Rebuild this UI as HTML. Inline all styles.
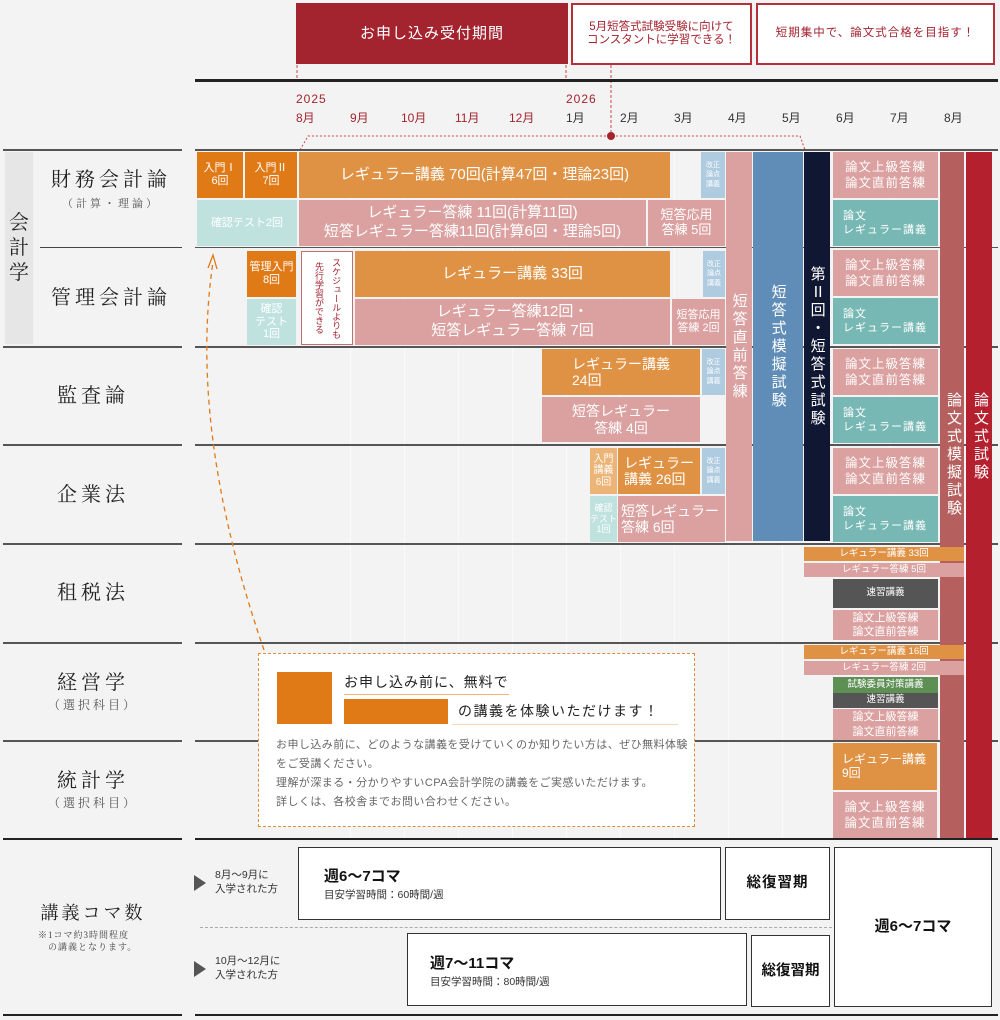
<!DOCTYPE html>
<html><head><meta charset="utf-8"><style>
*{margin:0;padding:0;box-sizing:border-box}
body{width:1000px;height:1020px;background:#f3f3f3;position:relative;overflow:hidden;font-family:"Liberation Sans","Noto Sans CJK JP",sans-serif;}
.a{position:absolute}
.b{position:absolute;display:flex;align-items:center;justify-content:center;color:#fff;text-align:center;line-height:1.15;}
.or{background:#e07a16}.lo{background:#e09244}.pk{background:#dba0a0}.tl{background:#bfe2df}.bl{background:#afcbe0}.tg{background:#78b8b4}
.hl{position:absolute;height:2px;background:#555}
.vl{position:absolute;top:150px;height:690px;width:1px;background:#fafafa}
.sr{font-family:"Liberation Serif","Noto Serif CJK SC",serif;color:#222}
.m{position:absolute;top:109px;font-size:12px}
.kz{font-size:7px;line-height:1.3}
.rn{font-size:12.5px;letter-spacing:1px;line-height:1.3}
.rl{font-size:11px;line-height:1.3;text-align:left;justify-content:flex-start;padding-left:10px;letter-spacing:1px}
.vt{position:absolute;writing-mode:vertical-rl;color:#fff;font-size:15px;letter-spacing:3px}
</style></head><body>
<!-- top -->
<div class="b" style="left:296px;top:3px;width:272px;height:61px;background:#a3232e;font-size:15px;letter-spacing:1px">お申し込み受付期間</div>
<div class="b" style="left:571px;top:3px;width:181px;height:62px;background:#fff;border:2px solid #b5303a;color:#a3232e;font-size:11.5px">5月短答式試験受験に向けて<br>コンスタントに学習できる！</div>
<div class="b" style="left:756px;top:3px;width:239px;height:62px;background:#fff;border:2px solid #b5303a;color:#a3232e;font-size:11.5px;letter-spacing:1px">短期集中で、論文式合格を目指す！</div>
<svg class="a" style="left:0;top:0" width="1000" height="160">
<line x1="297" y1="65" x2="297" y2="80" stroke="#c44" stroke-dasharray="3,2"/>
<line x1="566" y1="65" x2="566" y2="80" stroke="#c44" stroke-dasharray="3,2"/>
<line x1="611" y1="65" x2="611" y2="136" stroke="#c44" stroke-dasharray="3,2"/>
<polyline points="300,150 308,136 800,136 805,150" fill="none" stroke="#c44" stroke-dasharray="2,2"/>
<circle cx="611" cy="136" r="4" fill="#a3232e"/>
</svg>
<div class="a" style="left:195px;top:79px;width:803px;height:3px;background:#222"></div>
<div class="a" style="left:296px;top:92px;font-size:12px;color:#a3232e;letter-spacing:1px">2025</div>
<div class="a" style="left:566px;top:92px;font-size:12px;color:#a3232e;letter-spacing:1px">2026</div>
<div class="m" style="left:296px;color:#a3232e">8月</div><div class="m" style="left:350px;color:#a3232e">9月</div><div class="m" style="left:401px;color:#a3232e">10月</div><div class="m" style="left:455px;color:#a3232e">11月</div><div class="m" style="left:509px;color:#a3232e">12月</div>
<div class="m" style="left:566px;color:#333">1月</div><div class="m" style="left:620px;color:#333">2月</div><div class="m" style="left:674px;color:#333">3月</div><div class="m" style="left:728px;color:#333">4月</div><div class="m" style="left:782px;color:#333">5月</div><div class="m" style="left:836px;color:#333">6月</div><div class="m" style="left:890px;color:#333">7月</div><div class="m" style="left:944px;color:#333">8月</div>
<!-- grid -->
<div class="vl" style="left:350px"></div><div class="vl" style="left:404px"></div><div class="vl" style="left:458px"></div><div class="vl" style="left:512px"></div><div class="vl" style="left:566px"></div><div class="vl" style="left:620px"></div><div class="vl" style="left:674px"></div><div class="vl" style="left:728px"></div><div class="vl" style="left:782px"></div><div class="vl" style="left:836px"></div><div class="vl" style="left:890px"></div><div class="vl" style="left:944px"></div>
<div class="hl" style="left:3px;top:149px;width:179px"></div><div class="hl" style="left:195px;top:149px;width:803px"></div>
<div class="hl" style="left:40px;top:247px;width:142px;height:1px;background:#444"></div><div class="hl" style="left:195px;top:247px;width:803px;height:1px"></div>
<div class="hl" style="left:3px;top:346px;width:179px"></div><div class="hl" style="left:195px;top:346px;width:803px"></div>
<div class="hl" style="left:3px;top:444px;width:179px"></div><div class="hl" style="left:195px;top:444px;width:803px"></div>
<div class="hl" style="left:3px;top:543px;width:179px"></div><div class="hl" style="left:195px;top:543px;width:803px"></div>
<div class="hl" style="left:3px;top:642px;width:179px"></div><div class="hl" style="left:195px;top:642px;width:803px"></div>
<div class="hl" style="left:3px;top:740px;width:179px"></div><div class="hl" style="left:195px;top:740px;width:803px"></div>
<div class="hl" style="left:3px;top:838px;width:179px;background:#222"></div><div class="hl" style="left:195px;top:838px;width:803px;background:#222"></div>
<div class="hl" style="left:3px;top:1014px;width:179px;background:#222"></div><div class="hl" style="left:195px;top:1014px;width:803px;background:#222"></div>
<!-- left labels -->
<div class="b sr" style="left:5px;top:152px;width:28px;height:192px;background:#e6e6e6;font-size:20px;color:#222;line-height:1.25">会<br>計<br>学</div>
<div class="b sr" style="left:40px;top:170px;width:142px;height:40px;font-size:20px;letter-spacing:4px;flex-direction:column;color:#222">財務会計論<span style="font-size:11px;color:#555;letter-spacing:3px;margin-top:6px">（計算・理論）</span></div>
<div class="b sr" style="left:40px;top:278px;width:142px;height:40px;font-size:20px;letter-spacing:4px;color:#222">管理会計論</div>
<div class="b sr" style="left:0;top:376px;width:186px;height:40px;font-size:20px;letter-spacing:4px;color:#222">監査論</div>
<div class="b sr" style="left:0;top:475px;width:186px;height:40px;font-size:20px;letter-spacing:4px;color:#222">企業法</div>
<div class="b sr" style="left:0;top:573px;width:186px;height:40px;font-size:20px;letter-spacing:4px;color:#222">租税法</div>
<div class="b sr" style="left:0;top:662px;width:186px;height:60px;font-size:20px;letter-spacing:4px;flex-direction:column;color:#222">経営学<span style="font-size:12px;color:#555;letter-spacing:3px;margin-top:4px">（選択科目）</span></div>
<div class="b sr" style="left:0;top:760px;width:186px;height:60px;font-size:20px;letter-spacing:4px;flex-direction:column;color:#222">統計学<span style="font-size:12px;color:#555;letter-spacing:3px;margin-top:4px">（選択科目）</span></div>
<div class="b sr" style="left:0;top:898px;width:186px;height:30px;font-size:18px;letter-spacing:3px;color:#222">講義コマ数</div>
<div class="a sr" style="left:38px;top:930px;font-size:9px;color:#444;line-height:1.3;letter-spacing:1px">※1コマ約3時間程度<br>　の講義となります。</div>
<!-- 財務 -->
<div class="b or" style="left:197px;top:152px;width:46px;height:46px;font-size:11px">入門Ⅰ<br>6回</div>
<div class="b or" style="left:245px;top:152px;width:52px;height:46px;font-size:11px">入門Ⅱ<br>7回</div>
<div class="b tl" style="left:197px;top:200px;width:100px;height:46px;font-size:11px">確認テスト2回</div>
<div class="b lo" style="left:299px;top:152px;width:371px;height:46px;font-size:15px">レギュラー講義 70回(計算47回・理論23回)</div>
<div class="b pk" style="left:299px;top:200px;width:347px;height:46px;font-size:15px;line-height:1.25">レギュラー答練 11回(計算11回)<br>短答レギュラー答練11回(計算6回・理論5回)</div>
<div class="b pk" style="left:648px;top:200px;width:77px;height:46px;font-size:13px">短答応用<br>答練 5回</div>
<div class="b bl kz" style="left:701px;top:152px;width:24px;height:46px">改正<br>論点<br>講義</div>
<!-- 管理 -->
<div class="b or" style="left:247px;top:251px;width:49px;height:46px;font-size:11px">管理入門<br>8回</div>
<div class="b tl" style="left:247px;top:299px;width:49px;height:46px;font-size:11px">確認<br>テスト<br>1回</div>
<div class="b" style="left:301px;top:251px;width:52px;height:94px;background:#fff;border:1px solid #c07070;color:#a3232e;font-size:9px;writing-mode:vertical-rl;letter-spacing:0;line-height:1.9">スケジュールよりも<br>先行学習ができる</div>
<div class="b lo" style="left:355px;top:251px;width:315px;height:46px;font-size:15px">レギュラー講義 33回</div>
<div class="b pk" style="left:355px;top:299px;width:315px;height:46px;font-size:15px;line-height:1.25">レギュラー答練12回・<br>短答レギュラー答練 7回</div>
<div class="b pk" style="left:672px;top:299px;width:53px;height:46px;font-size:11px">短答応用<br>答練 2回</div>
<div class="b bl kz" style="left:703px;top:251px;width:22px;height:46px">改正<br>論点<br>講義</div>
<!-- 監査 -->
<div class="b lo" style="left:542px;top:349px;width:158px;height:46px;font-size:14px;text-align:left">レギュラー講義<br>24回</div>
<div class="b pk" style="left:542px;top:397px;width:158px;height:45px;font-size:14px">短答レギュラー<br>答練 4回</div>
<div class="b bl kz" style="left:702px;top:349px;width:23px;height:46px">改正<br>論点<br>講義</div>
<!-- 企業 -->
<div class="b" style="left:590px;top:448px;width:27px;height:46px;background:#ecb476;font-size:10px">入門<br>講義<br>6回</div>
<div class="b lo" style="left:618px;top:448px;width:82px;height:46px;font-size:14px;text-align:left">レギュラー<br>講義 26回</div>
<div class="b bl kz" style="left:702px;top:448px;width:23px;height:46px">改正<br>論点<br>講義</div>
<div class="b tl" style="left:590px;top:496px;width:27px;height:46px;font-size:9px">確認<br>テスト<br>1回</div>
<div class="b pk" style="left:618px;top:496px;width:107px;height:46px;font-size:14px;text-align:left;justify-content:flex-start;padding-left:3px;white-space:nowrap;overflow:hidden">短答レギュラー<br>答練 6回</div>
<!-- verticals -->
<div class="b pk" style="left:726px;top:152px;width:26px;height:389px;font-size:15px;writing-mode:vertical-rl;letter-spacing:3px">短答直前答練</div>
<div class="b" style="left:753px;top:152px;width:50px;height:389px;background:#608db7;font-size:15px;writing-mode:vertical-rl;letter-spacing:3px">短答式模擬試験</div>
<div class="b" style="left:804px;top:152px;width:26px;height:389px;background:#0f1733;font-size:15px;writing-mode:vertical-rl;letter-spacing:3px">第Ⅱ回・短答式試験</div>
<div class="a" style="left:940px;top:152px;width:24px;height:686px;background:#b5605e"></div>
<div class="vt" style="left:943px;top:392px">論文式模擬試験</div>
<div class="a" style="left:966px;top:152px;width:26px;height:686px;background:#b5202e"></div>
<div class="vt" style="left:970px;top:392px">論文式試験</div>
<!-- 論文 blocks -->
<div class="b pk rn" style="left:833px;top:152px;width:105px;height:46px">論文上級答練<br>論文直前答練</div>
<div class="b tg rl" style="left:833px;top:200px;width:105px;height:46px">論文<br>レギュラー講義</div>
<div class="b pk rn" style="left:833px;top:250px;width:105px;height:46px">論文上級答練<br>論文直前答練</div>
<div class="b tg rl" style="left:833px;top:298px;width:105px;height:46px">論文<br>レギュラー講義</div>
<div class="b pk rn" style="left:833px;top:349px;width:105px;height:46px">論文上級答練<br>論文直前答練</div>
<div class="b tg rl" style="left:833px;top:397px;width:105px;height:46px">論文<br>レギュラー講義</div>
<div class="b pk rn" style="left:833px;top:448px;width:105px;height:46px">論文上級答練<br>論文直前答練</div>
<div class="b tg rl" style="left:833px;top:496px;width:105px;height:46px">論文<br>レギュラー講義</div>
<!-- 租税 -->
<div class="b lo" style="left:804px;top:547px;width:160px;height:14px;font-size:9.5px">レギュラー講義 33回</div>
<div class="b pk" style="left:804px;top:563px;width:160px;height:14px;font-size:9.5px">レギュラー答練 5回</div>
<div class="b" style="left:833px;top:579px;width:105px;height:29px;background:#555;font-size:9.5px">速習講義</div>
<div class="b pk" style="left:833px;top:610px;width:105px;height:30px;font-size:11px;line-height:1.3">論文上級答練<br>論文直前答練</div>
<!-- 経営 -->
<div class="b lo" style="left:804px;top:645px;width:160px;height:14px;font-size:9.5px">レギュラー講義 16回</div>
<div class="b pk" style="left:804px;top:661px;width:160px;height:14px;font-size:9.5px">レギュラー答練 2回</div>
<div class="b" style="left:833px;top:677px;width:105px;height:16px;background:#5e8f55;font-size:9.5px">試験委員対策講義</div>
<div class="b" style="left:833px;top:693px;width:105px;height:15px;background:#555;font-size:9.5px">速習講義</div>
<div class="b pk" style="left:833px;top:709px;width:105px;height:31px;font-size:11px;line-height:1.3">論文上級答練<br>論文直前答練</div>
<!-- 統計 -->
<div class="b lo" style="left:833px;top:743px;width:104px;height:47px;font-size:12px;text-align:left;justify-content:flex-start;padding-left:9px">レギュラー講義<br>9回</div>
<div class="b pk rn" style="left:833px;top:792px;width:104px;height:46px">論文上級答練<br>論文直前答練</div>
<!-- arrow -->
<svg class="a" style="left:0;top:0" width="300" height="700">
<path d="M264 650 Q188 430 213 262" fill="none" stroke="#e07a16" stroke-width="1.3" stroke-dasharray="5,4"/>
<path d="M208 268 L213 255 L217 269" fill="none" stroke="#e07a16" stroke-width="1.3"/>
</svg>
<!-- popup -->
<div class="a" style="left:258px;top:653px;width:437px;height:174px;background:#fff;border:1.5px dashed #e08a3a"></div>
<div class="a or" style="left:277px;top:672px;width:55px;height:52px"></div>
<div class="a" style="left:344px;top:672px;font-size:14px;color:#222;letter-spacing:1px;border-bottom:1.5px solid #efb577;padding-bottom:2px">お申し込み前に、無料で</div>
<div class="a or" style="left:344px;top:699px;width:104px;height:25px"></div>
<div class="a" style="left:452px;top:699px;width:226px;font-size:14px;color:#222;letter-spacing:1.5px;border-bottom:1.5px solid #f5d8b8;padding:2px 0 3px 6px">の講義を体験いただけます！</div>
<div class="a" style="left:276px;top:736px;width:418px;font-size:11px;color:#666;line-height:19px;letter-spacing:0.45px">お申し込み前に、どのような講義を受けていくのか知りたい方は、ぜひ無料体験をご受講ください。<br>理解が深まる・分かりやすいCPA会計学院の講義をご実感いただけます。<br>詳しくは、各校舎までお問い合わせください。</div>
<!-- bottom -->
<div class="a" style="left:194px;top:875px;width:0;height:0;border-top:8px solid transparent;border-bottom:8px solid transparent;border-left:12px solid #555"></div>
<div class="a" style="left:215px;top:869px;font-size:10.5px;color:#333;line-height:1.3">8月～9月に<br>入学された方</div>
<div class="a" style="left:194px;top:961px;width:0;height:0;border-top:8px solid transparent;border-bottom:8px solid transparent;border-left:12px solid #555"></div>
<div class="a" style="left:215px;top:955px;font-size:10.5px;color:#333;line-height:1.3">10月～12月に<br>入学された方</div>
<div class="a" style="left:200px;top:927px;width:632px;border-top:1px dashed #aaa"></div>
<div class="a" style="left:298px;top:847px;width:423px;height:73px;background:#fff;border:1px solid #333;padding:17px 0 0 25px"><div style="font-size:15px;font-weight:bold;color:#111">週6～7コマ</div><div style="font-size:10.5px;color:#333;margin-top:1px">目安学習時間：60時間/週</div></div>
<div class="b" style="left:725px;top:847px;width:105px;height:73px;background:#fff;border:1px solid #333;color:#111;font-size:14.5px;font-weight:bold;letter-spacing:1px">総復習期</div>
<div class="b" style="left:834px;top:847px;width:158px;height:160px;background:#fff;border:1px solid #333;color:#111;font-size:15px;font-weight:bold">週6～7コマ</div>
<div class="a" style="left:407px;top:933px;width:340px;height:73px;background:#fff;border:1px solid #333;padding:18px 0 0 22px"><div style="font-size:15px;font-weight:bold;color:#111">週7～11コマ</div><div style="font-size:10.5px;color:#333;margin-top:1px">目安学習時間：80時間/週</div></div>
<div class="b" style="left:751px;top:935px;width:79px;height:72px;background:#fff;border:1px solid #333;color:#111;font-size:14.5px;font-weight:bold">総復習期</div>
</body></html>
